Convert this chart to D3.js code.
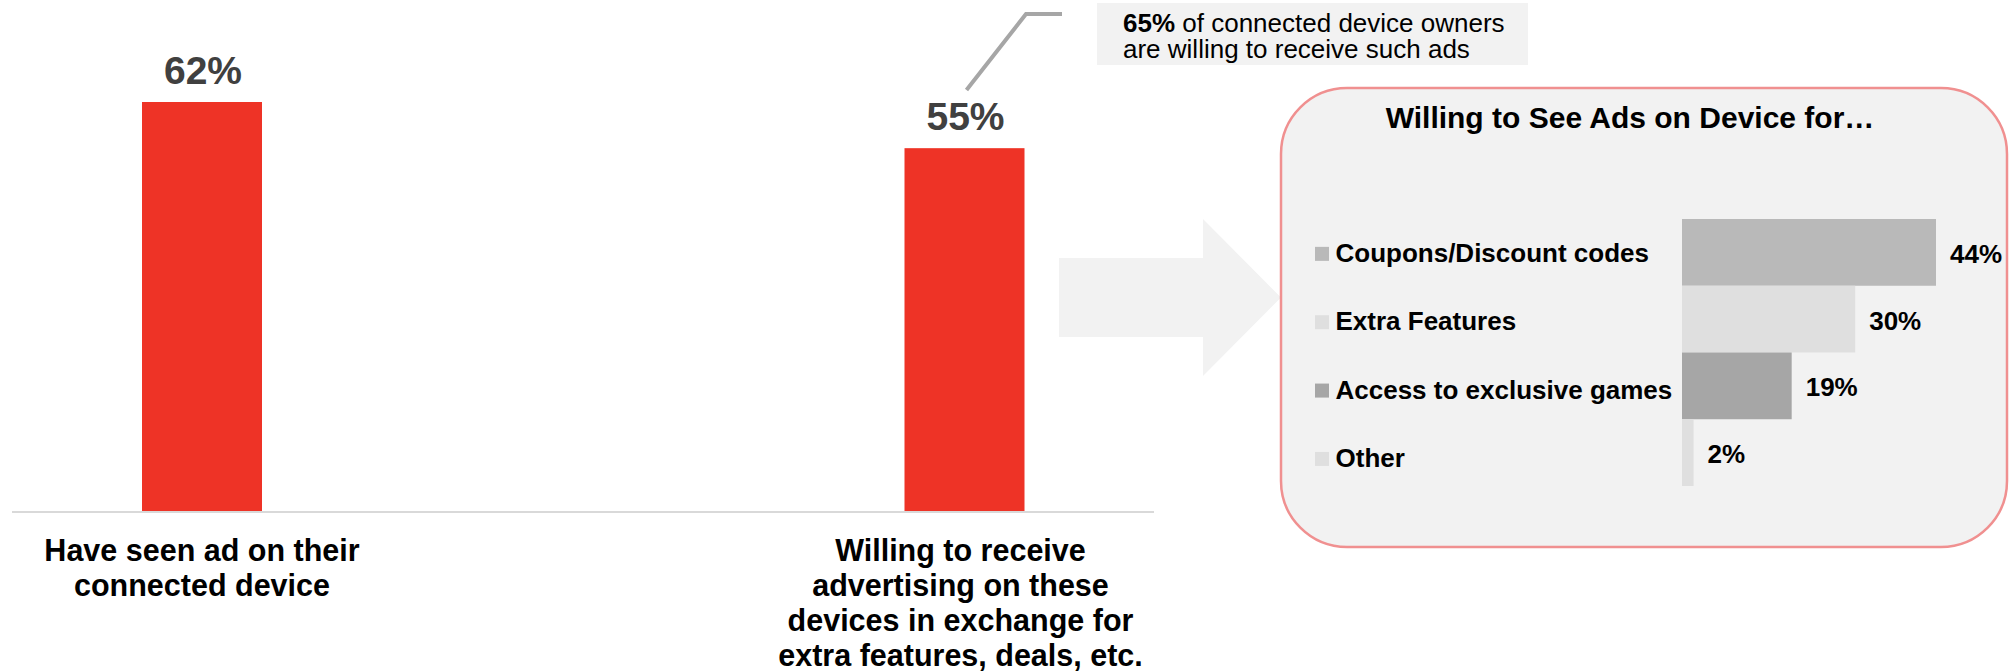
<!DOCTYPE html>
<html>
<head>
<meta charset="utf-8">
<script src="https://cdn.jsdelivr.net/npm/d3@7/dist/d3.min.js"></script>
<style>
  html, body { margin: 0; padding: 0; background: #fff; }
  svg { display: block; font-family: "Liberation Sans", Arial, Helvetica, sans-serif; }
</style>
</head>
<body>
<svg id="chart" width="2011" height="671"></svg>
<script>
// ---- data ----
const mainCategories = [
  ["Have seen ad on their", "connected device"],
  ["Willing to receive", "advertising on these", "devices in exchange for", "extra features, deals, etc."]
];
const mainKeys = ["seen", "willing"];
const mainValues = [62, 55];

const calloutBold = "65%";
const calloutLines = [" of connected device owners", "are willing to receive such ads"];

const panelTitle = "Willing to See Ads on Device for\u2026";
const subCategories = ["Coupons/Discount codes", "Extra Features", "Access to exclusive games", "Other"];
const subValues = [44, 30, 19, 2];
const subColors = ["#b9b9b9", "#dfdfdf", "#a6a6a6", "#dfdfdf"];

// ---- setup ----
const svg = d3.select("#chart");
const W = 2011, H = 671;

// Main chart scales
const x = d3.scalePoint().domain(mainKeys).range([202, 964.5]);
const y = d3.scaleLinear().domain([0, 62]).range([511, 102]);
const barW = 120;

// Arrow (background)
const arrow = d3.path();
arrow.moveTo(1059, 258);
arrow.lineTo(1203, 258);
arrow.lineTo(1203, 219);
arrow.lineTo(1281, 297.5);
arrow.lineTo(1203, 376);
arrow.lineTo(1203, 337);
arrow.lineTo(1059, 337);
arrow.closePath();
svg.append("path").attr("d", arrow.toString()).attr("fill", "#f2f2f2");

// Baseline
svg.append("line")
  .attr("x1", 12).attr("x2", 1154)
  .attr("y1", y(0) + 1).attr("y2", y(0) + 1)
  .attr("stroke", "#d9d9d9").attr("stroke-width", 2);

// Bars
svg.selectAll("rect.main")
  .data(mainValues)
  .join("rect")
  .attr("class", "main")
  .attr("x", (d, i) => x(mainKeys[i]) - barW / 2)
  .attr("width", barW)
  .attr("y", d => y(d))
  .attr("height", d => y(0) - y(d))
  .attr("fill", "#ee3326");

// Value labels
svg.selectAll("text.mainval")
  .data(mainValues)
  .join("text")
  .attr("class", "mainval")
  .attr("x", (d, i) => x(mainKeys[i]) + 1)
  .attr("y", d => y(d) - 18)
  .attr("text-anchor", "middle")
  .attr("font-size", 39)
  .attr("font-weight", "bold")
  .attr("fill", "#404040")
  .text(d => d + "%");

// Category labels
mainCategories.forEach((lines, i) => {
  const t = svg.append("text")
    .attr("text-anchor", "middle")
    .attr("font-size", 30.5)
    .attr("font-weight", "bold")
    .attr("fill", "#000");
  lines.forEach((ln, j) => {
    t.append("tspan")
      .attr("x", x(mainKeys[i]) - (i === 1 ? 4 : 0))
      .attr("y", 560.5 + j * 35)
      .text(ln);
  });
});

// Callout connector
svg.append("path")
  .attr("d", "M966.5,90 L1026,14 L1062,14")
  .attr("fill", "none")
  .attr("stroke", "#a6a6a6")
  .attr("stroke-width", 4);

// Callout box
svg.append("rect")
  .attr("x", 1097).attr("y", 3)
  .attr("width", 431).attr("height", 62)
  .attr("fill", "#f2f2f2");
const ct = svg.append("text").attr("font-size", 26).attr("fill", "#000");
const l1 = ct.append("tspan").attr("x", 1123).attr("y", 32);
l1.append("tspan").attr("font-weight", "bold").text(calloutBold);
l1.append("tspan").text(calloutLines[0]);
ct.append("tspan").attr("x", 1123).attr("y", 58).text(calloutLines[1]);

// Panel
svg.append("rect")
  .attr("x", 1281).attr("y", 88)
  .attr("width", 726).attr("height", 459)
  .attr("rx", 66).attr("ry", 66)
  .attr("fill", "#f2f2f2")
  .attr("stroke", "#f09090")
  .attr("stroke-width", 2.5);

svg.append("text")
  .attr("x", 1630).attr("y", 128)
  .attr("text-anchor", "middle")
  .attr("font-size", 30)
  .attr("font-weight", "bold")
  .attr("fill", "#000")
  .text(panelTitle);

// Sub chart scales
const sx = d3.scaleLinear().domain([0, 44]).range([1682, 1936]);
const sy = d3.scaleBand().domain(subCategories).range([219, 486]).padding(0);

svg.selectAll("rect.sub")
  .data(subValues)
  .join("rect")
  .attr("class", "sub")
  .attr("x", sx(0))
  .attr("y", (d, i) => sy(subCategories[i]))
  .attr("width", d => sx(d) - sx(0))
  .attr("height", sy.bandwidth())
  .attr("fill", (d, i) => subColors[i]);

svg.selectAll("text.subval")
  .data(subValues)
  .join("text")
  .attr("class", "subval")
  .attr("x", d => sx(d) + 14)
  .attr("y", (d, i) => sy(subCategories[i]) + sy.bandwidth() / 2 + 10.5)
  .attr("font-size", 26)
  .attr("font-weight", "bold")
  .attr("fill", "#000")
  .text(d => d + "%");

// Category labels with small squares
const labelY = (i) => sy(subCategories[i]) + sy.bandwidth() / 2 + 9.5 + i * 1.6;
svg.selectAll("rect.key")
  .data(subCategories)
  .join("rect")
  .attr("class", "key")
  .attr("x", 1315)
  .attr("y", (d, i) => labelY(i) - 15)
  .attr("width", 14).attr("height", 14)
  .attr("fill", (d, i) => subColors[i]);

svg.selectAll("text.key")
  .data(subCategories)
  .join("text")
  .attr("class", "key")
  .attr("x", 1335.5)
  .attr("y", (d, i) => labelY(i))
  .attr("font-size", 26)
  .attr("font-weight", "bold")
  .attr("fill", "#000")
  .text(d => d);
</script>
</body>
</html>
